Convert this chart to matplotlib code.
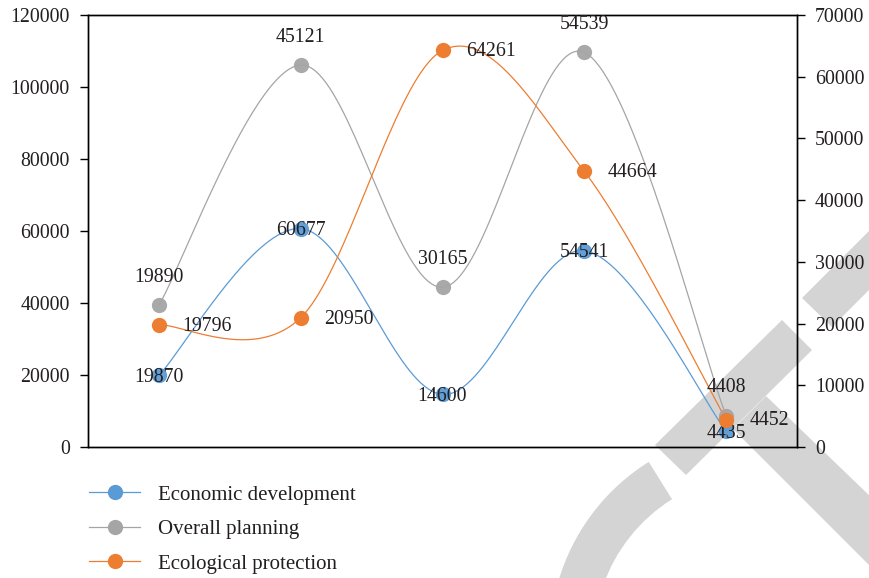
import numpy as np
import matplotlib
matplotlib.use("Agg")
import matplotlib.pyplot as plt
from matplotlib.lines import Line2D
from matplotlib.patches import Polygon, Wedge

plt.rcParams['font.family'] = ['Liberation Serif', 'DejaVu Serif']

# ---- data ----
categories = ["1", "2", "3", "4", "5"]
econ_values = [19870, 60677, 14600, 54541, 4435]          # left axis
econ_labels = ["19870", "60677", "14600", "54541", "4435"]
plan_values = [22960, 61900, 25880, 63950, 5070]          # right axis (as drawn)
plan_labels = ["19890", "45121", "30165", "54539", "4408"]
eco_values = [19796, 20950, 64261, 44664, 4452]           # right axis
eco_labels = ["19796", "20950", "64261", "44664", "4452"]
series_names = ["Economic development", "Overall planning", "Ecological protection"]

left_ticks = [0, 20000, 40000, 60000, 80000, 100000, 120000]
right_ticks = [0, 10000, 20000, 30000, 40000, 50000, 60000, 70000]

BLUE = "#5B9BD5"
GRAY = "#A5A5A5"
ORANGE = "#ED7D31"
TXT = "#231F20"
FS = 14.3


def smooth(xs, ys, n=40):
    P = np.column_stack([xs, ys]).astype(float)
    m = len(P)
    out = [P[0]]
    for i in range(m - 1):
        p0 = P[i - 1] if i > 0 else P[i]
        p1 = P[i]
        p2 = P[i + 1]
        p3 = P[i + 2] if i + 2 < m else P[i + 1]
        c1 = p1 + (p2 - p0) / 6.0
        c2 = p2 - (p3 - p1) / 6.0
        t = np.linspace(0, 1, n)[1:, None]
        b = ((1 - t) ** 3) * p1 + 3 * ((1 - t) ** 2) * t * c1 + 3 * (1 - t) * t ** 2 * c2 + t ** 3 * p2
        out.extend(b)
    out = np.array(out)
    return out[:, 0], out[:, 1]


W, H = 869, 578
fig = plt.figure(figsize=(W / 100, H / 100), dpi=100)
fig.patch.set_facecolor("white")

# ---- watermark (decorative, figure pixel coords) ----
WM = "#D4D4D4"
def img(pts):
    return [(x, H - y) for x, y in pts]
wm_polys = [
    [(655, 445), (782, 320), (812, 350), (686, 475)],
    [(766, 396), (733, 429), (900, 596), (900, 525)],
    [(802, 298), (832, 327), (900, 259), (900, 200)],
]
for pts in wm_polys:
    fig.add_artist(Polygon(img(pts), closed=True, facecolor=WM, edgecolor="none",
                           transform=None, zorder=-5))
fig.add_artist(Wedge((760, H - 640), 210, 122, 200, width=44, facecolor=WM,
                     edgecolor="none", transform=None, zorder=-5))

ax = fig.add_axes([88 / W, 1 - 447 / H, (797 - 88) / W, (447 - 15) / H])
ax2 = ax.twinx()
for a in (ax, ax2):
    a.patch.set_visible(False)
    for s in a.spines.values():
        s.set_linewidth(1.0)
        s.set_color("black")

x = np.arange(len(categories))
ax.set_xlim(-0.5, len(categories) - 0.5)
ax.set_ylim(0, 120000)
ax2.set_ylim(0, 70000)
ax.set_xticks([])
ax.set_yticks(left_ticks)
ax2.set_yticks(right_ticks)
ax.tick_params(axis="y", direction="out", length=6, width=1, pad=7, labelsize=FS, labelcolor=TXT)
ax2.tick_params(axis="y", direction="out", length=6, width=1, pad=7, labelsize=FS, labelcolor=TXT)

MS = 11
LW = 0.9
# blue on left axis
sx, sy = smooth(x, econ_values)
ax.plot(sx, sy, color=BLUE, lw=LW, zorder=2)
ax.plot(x, econ_values, "o", color=BLUE, ms=MS, mec="none", alpha=0.95, zorder=3)
for xi, v, lab in zip(x, econ_values, econ_labels):
    ax.annotate(lab, (xi, v), xytext=(0, -1.5), textcoords="offset points",
                ha="center", va="center", fontsize=FS, color=TXT, zorder=6)

# gray and orange on right axis
sx, sy = smooth(x, plan_values)
ax2.plot(sx, sy, color=GRAY, lw=LW, zorder=2)
ax2.plot(x, plan_values, "o", color=GRAY, ms=MS, mec="none", alpha=0.95, zorder=3)
for xi, v, lab in zip(x, plan_values, plan_labels):
    ax2.annotate(lab, (xi, v), xytext=(0, 20), textcoords="offset points",
                 ha="center", va="center", fontsize=FS, color=TXT, zorder=6)

sx, sy = smooth(x, eco_values)
ax2.plot(sx, sy, color=ORANGE, lw=LW, zorder=2)
ax2.plot(x, eco_values, "o", color=ORANGE, ms=MS, mec="none", zorder=4)
for xi, v, lab in zip(x, eco_values, eco_labels):
    ax2.annotate(lab, (xi, v), xytext=(17, -1), textcoords="offset points",
                 ha="left", va="center", fontsize=FS, color=TXT, zorder=6)

handles = [
    Line2D([], [], color=BLUE, lw=LW, marker="o", ms=MS, mec="none"),
    Line2D([], [], color=GRAY, lw=LW, marker="o", ms=MS, mec="none"),
    Line2D([], [], color=ORANGE, lw=LW, marker="o", ms=MS, mec="none"),
]
fig.legend(handles, series_names, loc="upper left", bbox_to_anchor=(89 / W, 1 - 485 / H),
           frameon=False, borderpad=0, borderaxespad=0, handlelength=2.45,
           handletextpad=0.85, labelspacing=0.72, fontsize=15, labelcolor=TXT)

fig.savefig("out.png", dpi=100)
